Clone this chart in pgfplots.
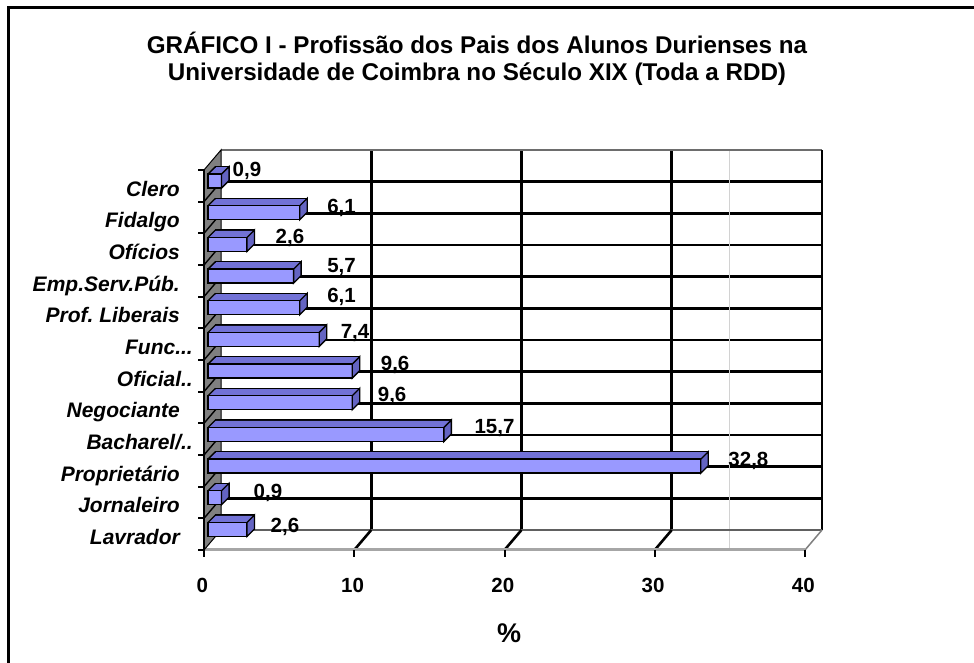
\documentclass[border=0pt]{standalone}
\usepackage{pgfplots}
\pgfplotsset{compat=1.18}
\usepackage{pgfplotstable}
\usepackage{fontspec}
\setmainfont{Liberation Sans}
\definecolor{barfront}{HTML}{9999FF}
\definecolor{bartop}{HTML}{7272D6}
\definecolor{barside}{HTML}{6464C2}
\definecolor{wallgray}{HTML}{808080}

\pgfdeclareplotmark{sideface}{%
  \pgfpathmoveto{\pgfpoint{0pt}{-7pt}}%
  \pgfpathlineto{\pgfpoint{7.5pt}{0.5pt}}%
  \pgfpathlineto{\pgfpoint{7.5pt}{14.5pt}}%
  \pgfpathlineto{\pgfpoint{0pt}{7pt}}%
  \pgfpathclose
  \pgfusepathqfillstroke}
\pgfdeclareplotmark{topleft}{%
  \pgfpathmoveto{\pgfpoint{0pt}{7pt}}%
  \pgfpathlineto{\pgfpoint{7.5pt}{14.5pt}}%
  \pgfusepathqstroke}

% y: 0 = Lavrador (bottom) ... 11 = Clero (top); dx, dy = label offsets
\pgfplotstableread{
y  v     dx    dy
0  2.6   23    4.5
1  0.9   31.5  6.3
2  32.8  27    6.6
3  15.7  30    8
4  9.6   25    9
5  9.6   28    7.6
6  7.4   21    8.4
7  6.1   27    12.3
8  5.7   33    10.6
9  2.6   28    8
10 6.1   27    6.3
11 0.9   10.5  12
}\data

\newcommand{\lsp}{\hspace*{13pt}}

\begin{document}
\begin{tikzpicture}[x=1pt,y=1pt]
\useasboundingbox (0,0) rectangle (974,663);
\fill[white] (0,0) rectangle (974,663);
\draw[line width=3pt] (8,0) -- (8,655) -- (974,655);

% title
\node[font=\fontsize{24.2}{27}\selectfont\bfseries, align=center] at (477,604.5)
  {GRÁFICO I - Profissão dos Pais dos Alunos Durienses na\\Universidade de Coimbra no Século XIX (Toda a RDD)};

% back wall
\begin{axis}[at={(221pt,133pt)}, anchor=south west, scale only axis,
  width=601pt, height=380pt, xmin=0, xmax=40, ymin=0, ymax=12,
  xtick={10,20,30,40}, ytick={1,...,11}, grid=major,
  major grid style={black, line width=2.6pt},
  axis line style={draw=none}, tick style={draw=none},
  xticklabels={}, yticklabels={}]
\end{axis}
\draw[line width=1pt, gray!35] (729,113) -- (729,513);
\draw[line width=2.4pt, wallgray!85!black] (221,513) -- (822,513);
\draw[line width=2.6pt, black] (822,133) -- (822,513);

% floor
\draw[line width=2.6pt, gray!75!black] (221,133) -- (822,133);
\foreach \k in {1,2,3} {
  \draw[line width=2.6pt, black] (204+150.25*\k,113) -- (221+150.25*\k,133);
}
\draw[line width=1.5pt, gray] (805,113) -- (822,133);
\draw[line width=3pt, gray!70] (204,113) -- (805,113);
\foreach \k in {0,...,4} {
  \draw[line width=2pt, black] (204+150.25*\k,113) -- (204+150.25*\k,106);
}

% side wall
\filldraw[fill=wallgray, draw=black, line width=1pt] (204,113) -- (204,493) -- (221,513) -- (221,133) -- cycle;
\foreach \k in {1,...,11} {
  \draw[line width=1.4pt, black] (204,113+31.667*\k) -- (221,133+31.667*\k);
}
\draw[line width=2.2pt, black] (204,113) -- (204,493);
\foreach \k in {0,...,12} {
  \draw[line width=2pt, black] (198,113+31.667*\k) -- (204,113+31.667*\k);
}

% bars
\begin{axis}[at={(208pt,117.7pt)}, anchor=south west, scale only axis,
  width=601pt, height=380pt, xmin=0, xmax=40, ymin=-0.5, ymax=11.5,
  clip=false, axis line style={draw=none}, tick style={draw=none},
  xtick={0,10,20,30,40}, xticklabels={0,10,20,30,40},
  xticklabel style={font=\fontsize{20.5}{24}\selectfont\bfseries, inner sep=0pt,
    anchor=north, text height=14.7pt, text depth=0pt, xshift=-5.7pt, yshift=-32.7pt},
  ytick={0,...,11},
  yticklabels={{Lavrador\lsp}, {Jornaleiro\lsp}, {Proprietário\lsp},
    {Bacharel/{.}{.}}, {Negociante\lsp}, {Oficial{.}{.}}, {Func{.}{.}{.}}, {Prof.\ Liberais\lsp},
    {Emp.Serv.Púb.\lsp}, {Ofícios\lsp}, {Fidalgo\lsp}, {Clero\lsp}},
  yticklabel style={font=\fontsize{21}{25}\selectfont\bfseries\itshape, inner sep=0pt,
    anchor=east, text height=15pt, text depth=0pt, xshift=-15pt, yshift=-7.5pt},
  ]
  % top face (extrusion)
  \addplot[xbar, bar shift=0pt, bar width=14pt, fill=bartop, draw=black, line width=1.3pt,
    xshift=7.5pt, yshift=7.5pt] table[x=v, y=y] {\data};
  \pgfplotsinvokeforeach{6.5,5.5,4.5,3.5,2.5,1.5,0.5}{
    \addplot[xbar, bar shift=0pt, bar width=14pt, fill=bartop, draw=none,
      xshift=#1pt, yshift=#1pt] table[x=v, y=y] {\data};
  }
  % front face
  \addplot[xbar, bar shift=0pt, bar width=14pt, fill=barfront, draw=black, line width=1.3pt]
    table[x=v, y=y] {\data};
  % side face + value labels
  \addplot[only marks, mark=sideface, mark options={fill=barside, draw=black, line width=1.3pt},
    point meta=x,
    visualization depends on={\thisrow{dx} \as \labdx},
    visualization depends on={\thisrow{dy} \as \labdy},
    nodes near coords={\pgfmathprintnumber[fixed, fixed zerofill, precision=1, use comma, assume math mode=true]{\pgfplotspointmeta}},
    every node near coord/.append style={anchor=west, xshift=\labdx pt, yshift=\labdy pt,
      inner sep=0pt, text height=14.5pt, text depth=0pt,
      font=\fontsize{20.5}{24}\selectfont\bfseries, text=black}]
    table[x=v, y=y] {\data};
  % top-left edge
  \addplot[only marks, mark=topleft, mark options={draw=black, line width=1.3pt}]
    table[x expr=0, y=y] {\data};
\end{axis}

% axis title
\node[font=\fontsize{27}{30}\selectfont\bfseries] at (509,30) {\%};
\end{tikzpicture}
\end{document}
